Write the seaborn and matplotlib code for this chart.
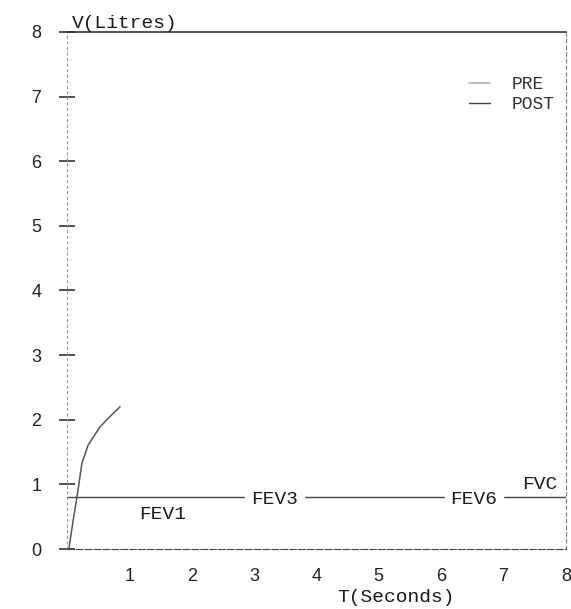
import matplotlib
matplotlib.use('Agg')
import matplotlib.pyplot as plt
import seaborn as sns
import pandas as pd

# spirometry trace (PRE)
t_pre = [0.03, 0.10, 0.16, 0.24, 0.34, 0.53, 0.70, 0.85]
v_pre = [0.0, 0.45, 0.80, 1.33, 1.61, 1.89, 2.06, 2.20]

# reference level line and its markers
t_level = [0.0, 8.0]
v_level = [0.8, 0.8]
marker_names = ['FEV1', 'FEV3', 'FEV6', 'FVC']
marker_t = [1.15, 2.95, 6.15, 7.30]
marker_v = [0.53, 0.76, 0.76, 1.00]

x_ticks = [1, 2, 3, 4, 5, 6, 7, 8]
y_ticks = [0, 1, 2, 3, 4, 5, 6, 7, 8]

sns.set_style('white')
plt.rcParams['font.family'] = ['Liberation Mono', 'DejaVu Sans']

fig = plt.figure(figsize=(5.71, 6.09), dpi=100)
ax = fig.add_axes([0.1173, 0.0985, 0.8737, 0.849])

pre = pd.DataFrame({'t': t_pre, 'v': v_pre})
level = pd.DataFrame({'t': t_level, 'v': v_level})

sns.lineplot(data=pre, x='t', y='v', ax=ax, color='#555555', lw=1.1,
             label='PRE', sort=False)
sns.lineplot(data=level, x='t', y='v', ax=ax, color='#444444', lw=1.0,
             label='POST', sort=False)

for name, tx, vy in zip(marker_names, marker_t, marker_v):
    ax.text(tx, vy, name, fontsize=14, color='#1a1a1a', va='center',
            ha='left', backgroundcolor='white' if name != 'FVC' else 'none')

ax.set_xlim(0, 8)
ax.set_ylim(0, 8)
ax.set_xticks(x_ticks)
ax.set_yticks(y_ticks)
ax.set_xticklabels([str(v) for v in x_ticks], family='Liberation Sans',
                   fontsize=13, color='#222222')
ax.set_yticklabels([str(v) for v in y_ticks], family='Liberation Sans',
                   fontsize=13, color='#222222')
ax.tick_params(axis='y', left=True, direction='inout', length=11, width=1.2,
               colors='#333333', pad=13)
ax.tick_params(axis='x', bottom=False, length=0, pad=14)
for lbl in ax.get_xticklabels() + ax.get_yticklabels():
    lbl.set_color('#222222')

ax.set_xlabel('')
ax.set_ylabel('')
ax.text(0.66, -0.093, 'T(Seconds)', transform=ax.transAxes, fontsize=14,
        color='#1a1a1a', ha='center', va='center')
ax.text(0.01, 1.0, 'V(Litres)', transform=ax.transAxes, fontsize=14,
        color='#1a1a1a', ha='left', va='bottom')

ax.spines['top'].set_color('#333333')
ax.spines['top'].set_linewidth(1.2)
ax.spines['bottom'].set_color('#444444')
ax.spines['bottom'].set_linestyle((0, (6, 2)))
ax.spines['left'].set_color('#999999')
ax.spines['left'].set_linestyle((0, (2, 3)))
ax.spines['right'].set_color('#777777')
ax.spines['right'].set_linestyle((0, (3, 3)))

leg = ax.legend(loc='upper right', bbox_to_anchor=(1.0, 0.935), frameon=False,
                fontsize=13, handlelength=1.2, handletextpad=1.2,
                labelspacing=0.15, borderaxespad=0.2)
leg.get_lines()[0].set_color('#aaaaaa')
for txt in leg.get_texts():
    txt.set_color('#333333')

fig.savefig('out.png', dpi=100)
